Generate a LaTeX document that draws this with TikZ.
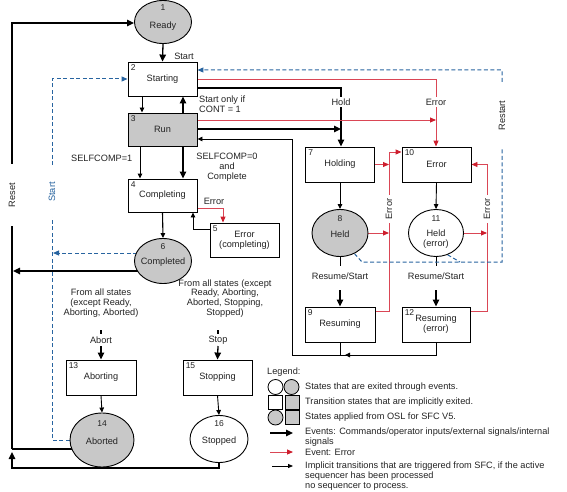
\documentclass[tikz,border=0pt]{standalone}
\usepackage{fontspec}
\setmainfont{Liberation Sans}
\usetikzlibrary{arrows.meta,shapes.geometric,backgrounds}
\definecolor{gfill}{RGB}{200,200,200}
\definecolor{ered}{RGB}{205,30,45}
\definecolor{lred}{RGB}{218,70,85}
\definecolor{bdash}{RGB}{40,100,160}
\definecolor{tx}{RGB}{35,35,35}
\begin{document}
\begin{tikzpicture}[x=1pt,y=-1pt,
 txt/.style={font=\fontsize{9.2}{9.8}\selectfont, text=tx, inner sep=0pt, align=center},
 num/.style={font=\fontsize{8.5}{9}\selectfont, text=tx, inner sep=0pt},
 box/.style={txt, draw, line width=0.9pt, minimum width=69pt, minimum height=34pt, fill=white},
 gbox/.style={box, fill=gfill},
 st/.style={ellipse, draw, line width=0.9pt, inner sep=0pt, fill=white},
 gst/.style={st, fill=gfill},
 lab/.style={txt, fill=white, inner sep=1.5pt},
 conn/.style={line width=0.9pt},
 arr/.style={conn, -{Triangle[length=5pt,width=4.5pt]}},
 tarr/.style={line width=1.3pt, -{Triangle[length=7pt,width=6.5pt]}},
 rline/.style={draw=lred, line width=0.9pt},
 rarr/.style={rline, -{Triangle[length=6pt,width=5pt,color=ered]}},
 bline/.style={draw=bdash, line width=1pt, dash pattern=on 4pt off 2.5pt},
 barr/.style={bline, -{Triangle[length=6pt,width=5pt]}}
]
\useasboundingbox (0,0) rectangle (567,492);

% ---------- states ----------
\node[gst, minimum width=57pt, minimum height=43pt] (ready) at (163,22) {};
\node[num] (n1) at (163,8) {1};
\node[txt] (t1) at (163,26) {Ready};

\node[box] (starting) at (162.5,79) {Starting};
\node[gbox, minimum height=33pt] (run) at (162.5,129.5) {Run};
\node[box, minimum height=33pt] (completing) at (162.5,195.5) {Completing};
\node[box] (errc) at (244.5,240) {Error\\(completing)};

\node[gst, minimum width=57pt, minimum height=45pt] (completed) at (163,261) {};
\node[num] (n6) at (163,246.5) {6};
\node[txt] (t6) at (163,262.5) {Completed};

\node[box, minimum height=35pt] (holding) at (340,164.5) {Holding};
\node[box, minimum height=35pt] (error) at (436.5,164.5) {Error};
\node[gst, minimum width=56pt, minimum height=47pt] (held) at (340,233) {};
\node[num] (n8) at (340,219) {8};
\node[txt] (t8) at (340,234) {Held};
\node[st, minimum width=55pt, minimum height=47pt] (helde) at (436,233) {};
\node[num] (n11) at (436,219) {11};
\node[txt] (t11) at (436,239) {Held\\(error)};

\node[box, minimum width=70pt, minimum height=35pt] (resuming) at (340,324.5) {Resuming};
\node[box, minimum width=68pt, minimum height=35pt] (resuminge) at (436,324.5) {Resuming\\(error)};

\node[box, minimum width=70pt, minimum height=35pt] (aborting) at (101,377.5) {Aborting};
\node[gst, minimum width=64pt, minimum height=54pt] (aborted) at (102,440) {};
\node[num] (n14) at (102,424) {14};
\node[txt] (t14) at (102,441) {Aborted};
\node[box, minimum height=35pt] (stopping) at (217.5,377.5) {Stopping};
\node[st, minimum width=58pt, minimum height=47pt] (stopped) at (219,439) {};
\node[num] (n16) at (219,424) {16};
\node[txt] (t16) at (219,441) {Stopped};

% numbers in boxes
\foreach \b/\n in {starting/2,run/3,completing/4,errc/5,holding/7,error/10,resuming/9,resuminge/12,aborting/13,stopping/15}
  \node[num, anchor=north west] (num\n) at ([xshift=3pt,yshift=-2.5pt]\b.north west) {\n};

% ---------- connectors ----------
\begin{scope}[on background layer]
\draw[tarr] (ready.south) -- (starting.north);
\draw[arr] (142,0 |- starting.south) -- (142,0 |- run.north);
\draw[tarr] (183,0 |- run.north) -- (183,0 |- starting.south);
\draw[arr] (140,0 |- run.south) -- (140,0 |- completing.north);
\draw[tarr] (183,0 |- run.south) -- (183,0 |- completing.north);
\draw[arr, line width=1.1pt] (completing.south) -- (completed.north);
\draw[rarr] (completing.east |- 0,208) -| (223,0 |- errc.north);
\draw[arr] (errc.west |- 0,229) -| (193,0 |- completing.south);

% reset loop
\draw[tarr] (completed.center |- 0,271) -- (13,271);
\draw[tarr] (stopped.center) |- (12,468) -- (12,452);
\draw[line width=1.3pt] (aborted.center |- 0,449) -- (12,449);
\draw[tarr] (12,449) -- (12,23) -- (ready.west |- 0,23);

% start (dashed)
\draw[barr] (aborted.west) -| (52,79) -- (starting.west);
\draw[barr] (completed.center |- 0,253) -- (53,253);

% hold
\draw[tarr] (starting.east |- 0,88) -| (341,0 |- holding.north);
\draw[tarr] (run.east |- 0,129) -- (341,129);

% error top
\draw[rarr] (starting.east) -| (436,0 |- error.north);
\draw[rarr] (run.east |- 0,120) -- (436,120);

% implicit back to run
\draw[arr] (resuminge.south) |- (292,355) |- (run.east |- 0,139);
\draw[conn] (resuming.south) -- (340,355);
\draw[arr] (362,355) -- (345,355);

% holding / error internals
\draw[arr] (holding.south) -- (held.north);
\draw[arr] (error.south) -- (helde.north);
\draw[conn] (held.south) -- (340,266);
\draw[tarr] (340,290) -- (resuming.north);
\draw[conn] (helde.south) -- (436,266);
\draw[tarr] (436,290) -- (resuminge.north);

\draw[rarr] (holding.east) -- (389,0 |- holding.east);
\draw[rarr] (held.east) -- (389,0 |- held.east);
\draw[rarr] (resuming.east |- 0,311) -| (389,152) -- (error.west |- 0,152);
\draw[rarr] (helde.east) -- (487,0 |- helde.east);
\draw[rarr] (resuminge.east |- 0,311) -| (487,0 |- error.east) -- (error.east);

% restart
\draw[barr] (held.-55) -- (362,262) -- (502,262) -- (502,70) -- (starting.east |- 0,70);
\draw[bline] (helde.-62) -- (460,262);

% abort / stop
\draw[line width=1.3pt] (101,330) -- (101,334);
\draw[tarr] (101,346) -- (aborting.north);
\draw[arr] (aborting.south) -- (aborted.north);
\draw[line width=1.3pt] (218,330) -- (218,334);
\draw[tarr] (218,346) -- (stopping.north);
\draw[arr] (stopping.south) -- (stopped.north);
\end{scope}

% ---------- labels ----------
\node[txt] (lstart) at (184,56) {Start};
\node[txt, align=left, anchor=west] (lcont) at (199,104.5) {Start only if\\CONT = 1};
\node[txt, anchor=east] (lself1) at (132.5,158) {SELFCOMP=1};
\node[txt] (lself0) at (227,167.5) {SELFCOMP=0\\and\\Complete};
\node[txt] (lerrc) at (214,201) {Error};
\node[lab, rotate=90, minimum width=62pt] (lreset) at (12,195) {Reset};
\node[lab, rotate=90, text=bdash, minimum width=50pt] (lstartb) at (52,192) {Start};
\node[lab] (lhold) at (341,102) {Hold};
\node[lab] (lerr1) at (436,102) {Error};
\node[lab, rotate=90, minimum width=28pt] (lerr2) at (389,209) {Error};
\node[lab, rotate=90, minimum width=28pt] (lerr3) at (487,209) {Error};
\node[lab, rotate=90, minimum width=64pt] (lrestart) at (502,115.5) {Restart};
\node[lab] (lres1) at (340,276) {Resume/Start};
\node[lab] (lres2) at (436,276) {Resume/Start};
\node[txt] (lall1) at (101,303) {From all states\\(except Ready,\\Aborting, Aborted)};
\node[txt] (lall2) at (225,298.5) {From all states (except\\Ready, Aborting,\\Aborted, Stopping,\\Stopped)};
\node[txt] (labort) at (101,340) {Abort};
\node[txt] (lstop) at (218,340) {Stop};

% ---------- legend ----------
\node[txt, anchor=west] (leg) at (267,372) {Legend:};
\node[circle, draw, line width=0.8pt, minimum size=15pt, inner sep=0pt, fill=white] (lc1) at (275.5,387) {};
\node[circle, draw, line width=0.8pt, minimum size=15pt, inner sep=0pt, fill=gfill] (lc2) at (291.5,387) {};
\node[draw, line width=0.8pt, minimum size=14pt, inner sep=0pt, fill=white] (ls1) at (275.5,402.5) {};
\node[draw, line width=0.8pt, minimum size=14pt, inner sep=0pt, fill=gfill] (ls2) at (292,402.5) {};
\node[circle, draw, line width=0.8pt, minimum size=15pt, inner sep=0pt, fill=gfill] (lc3) at (275.5,417.5) {};
\node[draw, line width=0.8pt, minimum size=14pt, inner sep=0pt, fill=gfill] (ls3) at (292,417.5) {};
\node[txt, anchor=west] (lg1) at (305,387) {States that are exited through events.};
\node[txt, anchor=west] (lg2) at (305,402.5) {Transition states that are implicitly exited.};
\node[txt, anchor=west] (lg3) at (305,417) {States applied from OSL for SFC V5.};
\node[txt, anchor=west, align=left] (lg4) at (305,437) {Events: Commands/operator inputs/external signals/internal\\signals};
\node[txt, anchor=west] (lg5) at (305,452) {Event: Error};
\node[txt, anchor=west, align=left] (lg6) at (305,476) {Implicit transitions that are triggered from SFC, if the active\\sequencer has been processed\\no sequencer to process.};
\draw[tarr] (270,433) -- (293,433);
\draw[rarr] (270,452) -- (293,452);
\draw[conn, line width=0.8pt, -{Triangle[length=5pt,width=4pt]}] (272,466) -- (293,466);
\end{tikzpicture}
\end{document}
